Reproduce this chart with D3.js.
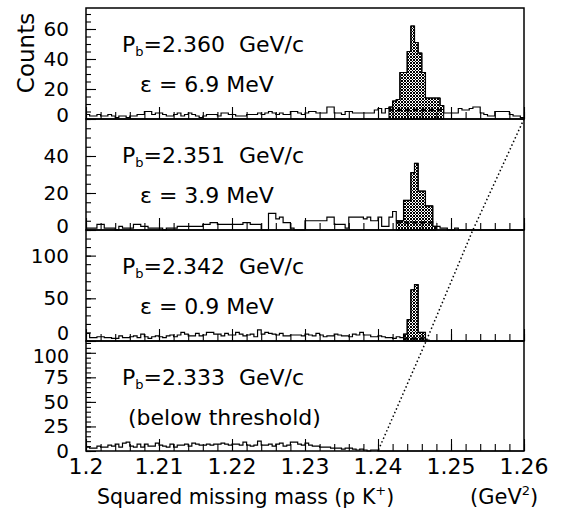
<!DOCTYPE html>
<html><head><meta charset="utf-8">
<script src="https://cdn.jsdelivr.net/npm/d3@7"></script>
<style>
body{margin:0;background:#fff}
svg{display:block}
text{font-family:"DejaVu Sans",sans-serif;fill:#000;white-space:pre}
</style>
</head><body>
<svg id="c" width="565" height="514"></svg>
<script>
// ---------------- DATA ----------------
const binStart = 1.2;
const binWidth = 0.0005;

const countsP1 = [
3,2,2,3,2,2,3,2,1,2,
2,1,2,2,3,3,5,5,3,4,
4,3,2,2,3,4,2,3,4,3,
2,1,2,3,3,3,2,4,4,3,
3,2,2,2,3,3,3,4,3,4,
5,4,3,4,3,3,5,5,4,3,
4,5,5,4,4,4,8,8,4,4,
3,5,5,4,4,4,4,4,4,6,
7,4,7,8,12,13,31,31,45,62,
51,44,31,14,14,14,14,9,4,4,
4,4,7,6,6,7,8,8,4,3,
2,2,5,5,5,5,3,2,2,1];

const countsP2 = [
1,1,1,3,3,1,1,1,0,2,
1,1,1,3,3,2,2,1,1,1,
1,0,1,1,1,2,2,2,2,2,
2,2,3,3,4,4,3,3,3,3,
3,3,3,4,4,3,3,3,0,0,
9,9,6,7,4,4,1,0,0,0,
5,5,5,5,5,5,7,7,3,3,
3,1,7,7,7,7,6,7,5,5,
7,2,2,7,10,5,5,16,16,31,
36,21,21,13,13,2,2,1,1,0,
0,1,0,0,0,0,0,0,0,0,
0,0,0,0,0,0,0,0,0,0];

const countsP3 = [
9,4,4,5,5,4,4,3,3,6,
4,4,5,6,4,8,5,3,5,6,
5,4,6,7,5,7,10,8,6,6,
9,6,7,10,10,8,8,6,9,7,
7,10,8,6,7,8,5,13,8,10,
9,8,7,9,6,6,7,7,7,6,
8,7,6,9,7,5,6,6,8,7,
6,6,5,8,7,10,7,7,5,5,
6,5,4,4,3,5,4,8,25,60,
66,10,10,1,0,0,0,0,0,0,
0,0,0,0,0,0,0,0,0,0,
0,0,0,0,0,0,0,0,0,0];

const countsP4 = [
4,3,3,5,4,4,6,5,7,4,
8,9,5,4,7,4,7,5,5,8,
6,5,4,7,4,6,6,7,5,8,
7,6,6,7,6,7,7,8,7,6,
7,7,6,9,6,5,6,10,6,6,
7,5,7,8,5,6,9,9,7,6,
8,6,5,5,4,4,4,3,3,3,
2,3,3,2,1,2,1,0,1,1,
0,0,0,0,0,0,0,0,0,0,
0,0,0,0,0,0,0,0,0,0,
0,0,0,0,0,0,0,0,0,0,
0,0,0,0,0,0,0,0,0,0];

const beamMomenta = ["2.360", "2.351", "2.342", "2.333"];
const secondLines = ["\u03b5 = 6.9 MeV", "\u03b5 = 3.9 MeV", "\u03b5 = 0.9 MeV", "(below threshold)"];
const yMaxes = [74, 60, 130, 112];
const yMajorTicks = [[0,20,40,60],[0,20,40],[0,50,100],[0,25,50,75,100]];
const yMinorSteps = [5, 5, 10, 5];
const signalLo = [1.2415, 1.2425, 1.2435, null];
const signalHi = [1.2490, 1.2480, 1.2465, null];
const bgLevels = [6, 4, 3, null];
const thresholdX = [1.2600, 1.2530, 1.2466, 1.2400];
const xMajorTicks = [1.2, 1.21, 1.22, 1.23, 1.24, 1.25, 1.26];
const xTickLabels = ["1.2","1.21","1.22","1.23","1.24","1.25","1.26"];
const xMinorStep = 0.002;

const allCounts = [countsP1, countsP2, countsP3, countsP4];

// ---------------- LAYOUT ----------------
const svg = d3.select("#c");
const X0 = 86, X1 = 524;
const panelTop = [8, 119, 230, 341];
const panelBot = [119, 230, 341, 451];
const x = d3.scaleLinear().domain([1.2, 1.26]).range([X0, X1]);

const defs = svg.append("defs");
const pat = defs.append("pattern").attr("id","hatch")
  .attr("width",3).attr("height",3).attr("patternUnits","userSpaceOnUse");
pat.append("rect").attr("width",3).attr("height",3).attr("fill","#fff");
[[0,0],[1,1],[2,2],[2,0],[0,2]].forEach(([a,b]) =>
  pat.append("rect").attr("x",a).attr("y",b).attr("width",1).attr("height",1).attr("fill","#000"));

const minorX = d3.range(0, 31).map(i => +(1.2 + i * xMinorStep).toFixed(4));

allCounts.forEach((counts, p) => {
  const y = d3.scaleLinear().domain([0, yMaxes[p]]).range([panelBot[p], panelTop[p]]);
  const g = svg.append("g");
  const bins = counts.map((c, i) => ({x0: binStart + i * binWidth, x1: binStart + (i + 1) * binWidth, c}));

  // shaded signal region
  if (signalLo[p] !== null) {
    const sb = bins.filter(b => b.x0 >= signalLo[p] - 1e-9 && b.x1 <= signalHi[p] + 1e-9);
    const pts = sb.map(b => [b.x0, b.c]);
    pts.push([sb[sb.length - 1].x1, sb[sb.length - 1].c]);
    const area = d3.area().x(d => x(d[0])).y0(y(0)).y1(d => y(d[1])).curve(d3.curveStepAfter);
    g.append("path").attr("d", area(pts)).attr("fill", "url(#hatch)").attr("stroke", "#000").attr("stroke-width", 1);
    // background estimate (dashed)
    g.append("line").attr("x1", x(signalLo[p])).attr("x2", x(signalHi[p]))
      .attr("y1", y(bgLevels[p])).attr("y2", y(bgLevels[p]))
      .attr("stroke", "#000").attr("stroke-width", 2.5).attr("stroke-dasharray", "5,3");
  }

  // histogram outline
  const pts = bins.map(b => [b.x0, b.c]);
  pts.push([bins[bins.length - 1].x1, bins[bins.length - 1].c]);
  const line = d3.line().x(d => x(d[0])).y(d => y(d[1])).curve(d3.curveStepAfter);
  g.append("path").attr("d", line(pts)).attr("fill", "none").attr("stroke", "#000").attr("stroke-width", 1.2);

  // frame
  g.append("rect").attr("x", X0).attr("y", panelTop[p]).attr("width", X1 - X0)
    .attr("height", panelBot[p] - panelTop[p]).attr("fill", "none").attr("stroke", "#000").attr("stroke-width", 1.5);

  // x ticks (pointing up from each panel's bottom)
  g.append("g").attr("transform", `translate(0,${panelBot[p]})`)
    .call(d3.axisTop(x).tickValues(minorX).tickSize(7).tickFormat(""))
    .call(s => s.select(".domain").remove())
    .selectAll("line").attr("stroke", "#000").attr("stroke-width", 1.1);
  g.append("g").attr("transform", `translate(0,${panelBot[p]})`)
    .call(d3.axisTop(x).tickValues(xMajorTicks).tickSize(12).tickFormat(""))
    .call(s => s.select(".domain").remove())
    .selectAll("line").attr("stroke", "#000").attr("stroke-width", 1.1);

  // y ticks (pointing right)
  const minorY = d3.range(0, yMaxes[p], yMinorSteps[p]);
  g.append("g").attr("transform", `translate(${X0},0)`)
    .call(d3.axisRight(y).tickValues(minorY).tickSize(5).tickFormat(""))
    .call(s => s.select(".domain").remove())
    .selectAll("line").attr("stroke", "#000").attr("stroke-width", 1.1);
  g.append("g").attr("transform", `translate(${X0},0)`)
    .call(d3.axisRight(y).tickValues(yMajorTicks[p]).tickSize(10).tickFormat(""))
    .call(s => s.select(".domain").remove())
    .selectAll("line").attr("stroke", "#000").attr("stroke-width", 1.1);

  // y tick labels
  const crowdedZero = (d) => d === 0 && p === 2;
  const crowdedTop = (d) => p === 3 && d === 100;
  g.selectAll("text.yl").data(yMajorTicks[p]).enter().append("text")
    .attr("x", 69)
    .attr("y", d => y(d) + (crowdedZero(d) ? -1 : crowdedTop(d) ? 10 : (d === 0 && p < 3) ? 3 : 7))
    .attr("text-anchor", "end")
    .attr("font-size", d => (crowdedZero(d) || crowdedTop(d)) ? 19 : 20)
    .text(d => d);

  // annotation
  const t = g.append("text").attr("x", 122).attr("y", panelTop[p] + 44).attr("font-size", 22);
  t.append("tspan").text("P");
  t.append("tspan").attr("font-size", 13).attr("dy", 4).text("b");
  t.append("tspan").attr("dy", -4).text("=" + beamMomenta[p] + "  GeV/c");
  g.append("text").attr("x", p === 3 ? 128 : 140).attr("y", panelTop[p] + 84)
    .attr("font-size", 22).text(secondLines[p]);
});

// threshold dotted line
const thrPts = thresholdX.map((t, i) => [x(t), panelBot[i]]);
svg.append("path").attr("d", d3.line()(thrPts)).attr("fill", "none")
  .attr("stroke", "#000").attr("stroke-width", 1.5).attr("stroke-dasharray", "1.5,2.5");

// x tick labels
svg.selectAll("text.xl").data(xMajorTicks).enter().append("text")
  .attr("x", d => x(d)).attr("y", 474).attr("text-anchor", "middle")
  .attr("font-size", 22).text((d, i) => xTickLabels[i]);

// axis titles
const xt = svg.append("text").attr("x", 97).attr("y", 504).attr("font-size", 20.5);
xt.append("tspan").text("Squared missing mass (p K");
xt.append("tspan").attr("font-size", 13).attr("dy", -9).text("+");
xt.append("tspan").attr("dy", 9).text(")");
const ut = svg.append("text").attr("x", 470).attr("y", 504).attr("font-size", 21);
ut.append("tspan").text("(GeV");
ut.append("tspan").attr("font-size", 13).attr("dy", -9).text("2");
ut.append("tspan").attr("dy", 9).text(")");

svg.append("text").attr("transform", "translate(34,53) rotate(-90)")
  .attr("text-anchor", "middle").attr("font-size", 23).text("Counts");
</script>
</body></html>
